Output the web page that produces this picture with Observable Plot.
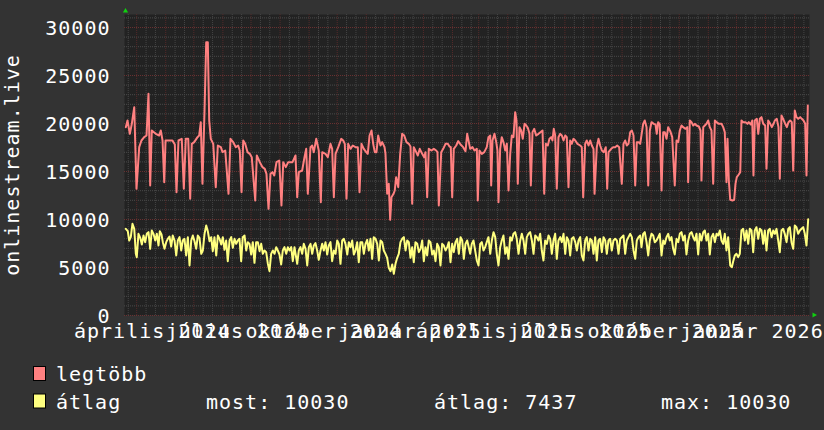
<!DOCTYPE html>
<html><head><meta charset="utf-8">
<script src="https://cdn.jsdelivr.net/npm/d3@7"></script>
<script src="https://cdn.jsdelivr.net/npm/@observablehq/plot@0.6"></script>
<style>
html,body{margin:0;padding:0;background:#333333;}
#wrap{width:824px;height:430px;position:relative;overflow:hidden;background:#333333;}
svg{display:block}
</style></head><body><div id="wrap"></div>
<script>
// ---- data (days after 2024-02-17 UTC) ----
const startISO = "2024-02-17";
const endISO = "2026-02-17";
const redDay = [1.4,3.2,5.7,7.8,10.4,12.8,15.7,18.1,21.0,23.5,25.6,27.4,29.1,33.4,37.0,38.7,40.6,42.4,43.8,51.2,53.7,55.5,57.6,61.1,63.3,65.4,68.0,70.1,71.8,74.4,77.9,79.7,81.4,83.2,85.4,87.2,88.9,90.4,92.1,94.7,97.4,99.6,102.8,104.6,107.5,111.0,113.1,116.0,118.8,121.3,123.0,124.9,126.7,128.8,131.3,133.7,135.8,139.5,141.2,144.4,147.3,149.7,151.5,153.7,155.8,157.9,159.8,162.2,165.1,167.5,169.4,172.1,174.7,179.3,182.5,184.3,186.0,189.6,192.1,193.9,195.6,198.5,200.3,202.0,204.6,207.3,209.5,211.0,214.5,217.0,219.8,221.6,223.4,225.2,228.1,231.3,233.4,235.1,236.9,238.7,241.2,243.6,246.5,249.0,250.8,252.9,255.4,257.9,259.6,261.5,263.6,265.4,267.1,268.9,270.7,273.2,275.0,277.5,278.5,280.3,282.0,283.5,284.9,287.1,288.4,289.9,292.1,294.2,296.3,298.5,300.9,303.4,305.2,307.0,308.7,311.3,313.0,315.1,317.7,319.8,321.2,323.0,324.7,327.6,330.1,332.6,334.0,335.4,338.0,340.1,342.6,345.0,346.8,348.2,349.7,351.4,354.0,356.1,358.6,361.4,363.9,365.7,368.9,371.4,373.5,376.0,377.0,378.8,381.3,383.9,386.6,388.4,390.3,391.3,392.7,394.8,396.7,398.0,399.1,400.9,402.6,404.4,406.3,408.0,409.8,411.6,413.3,415.1,416.9,418.3,419.7,421.5,423.3,425.0,426.9,428.7,430.4,432.2,433.6,435.4,437.2,439.3,441.8,443.9,446.1,447.9,449.6,451.7,453.5,455.4,456.7,458.1,459.6,461.3,463.1,465.0,466.7,468.5,470.3,472.0,473.8,475.6,477.3,479.1,481.0,483.4,486.3,488.0,489.5,491.6,493.3,495.2,497.0,498.7,500.5,501.6,504.0,505.8,507.6,509.4,511.5,513.6,515.1,516.5,519.4,521.5,523.6,525.8,527.9,530.7,532.5,534.3,536.0,537.8,539.7,541.4,543.2,545.0,546.7,548.5,550.3,553.5,555.2,557.1,558.9,560.6,562.4,564.8,566.7,568.0,569.5,571.2,573.1,574.9,576.6,578.4,580.2,582.4,584.5,585.5,587.2,589.1,590.9,592.6,594.4,596.2,598.7,600.5,601.5,603.3,605.1,606.9,608.6,610.4,612.9,614.7,615.7,617.6,619.3,621.1,622.9,624.6,626.4,628.2,630.0,631.8,634.2,637.1,638.9,640.6,642.4,643.5,644.9,646.4,648.8,650.6,652.0,653.4,655.5,657.1,658.4,660.2,662.7,664.8,666.2,668.4,669.9,671.2,672.6,674.8,676.3,678.0,679.8,681.6,683.7,685.1,686.9,689.1,690.8,692.6,694.0,696.1,697.9,699.3,701.1,702.9,705.1,706.8,708.6,710.4,712.1,713.6,715.3,717.1,718.9,721.1,722.8,724.6,726.4,727.8,729.2];
const redVal = [19618,20313,18924,19966,21700,13195,17535,18229,18576,18750,23090,13542,19271,18924,18750,19271,18229,13889,18229,18229,17800,12847,18229,18403,13195,18403,18403,12153,17882,18056,18576,18750,20139,13716,21355,28472,28472,20313,18403,17882,13368,17708,17535,17014,17188,12674,18403,18056,17535,17708,17188,12847,18229,17882,17014,16841,16493,11979,16667,15972,15451,15278,14757,11111,14757,14931,14584,15972,16146,11458,15972,15451,15972,15972,16667,12327,14931,15104,16493,17361,12674,17535,17708,17014,18403,17188,11806,17014,16841,16493,17882,17361,12327,16841,17535,18403,18229,17882,12153,17882,17361,17708,17535,17535,12847,17882,17361,17014,16841,18750,19271,17882,17014,17014,18750,17708,18056,17535,16841,12674,13716,9965,12327,12674,13021,14410,13368,16841,18924,18750,18056,17882,17604,11632,17535,17014,16667,17361,16841,16493,17014,12327,17361,17188,17361,17188,17014,11458,17014,17361,17882,17882,17604,17535,12327,17361,17708,18160,17813,17535,17118,18924,17361,17535,17188,17361,11979,17188,16841,17014,17535,18576,18750,13542,18229,18924,18056,17188,11806,17361,18576,18056,17188,17882,13021,16841,18750,18576,21181,20313,13716,19618,19271,18403,19966,19792,19549,18924,13542,19097,19444,18750,18924,19097,19271,12674,17882,17708,18403,18576,18229,19444,18750,13195,18576,18924,18750,18229,18750,18576,13368,18229,17882,18403,18229,17882,17708,17535,12327,17882,18229,17708,18229,17708,17361,12674,17535,18403,17708,17188,17014,17535,13195,17014,17361,17535,17535,17708,17535,13716,17882,18229,17708,17882,19097,19271,18750,13542,18056,18056,17882,19966,20313,19618,13542,19271,20139,19966,19896,18924,20139,19896,13021,19097,19097,18403,19618,19201,18576,16667,13542,18229,18056,19271,19792,19618,19444,19618,13889,20313,20139,19792,19966,19792,19688,19271,14063,19618,19792,19966,20313,19618,19271,13716,20313,20139,19966,19966,19618,19097,13889,18403,14063,12049,11979,12049,13716,14410,14688,14931,20313,20139,20139,19966,20139,19896,20313,14584,20313,20486,18924,20486,20660,19966,19792,15278,20313,19966,19618,19966,20313,20486,19618,14236,20833,20486,19966,19618,20139,20313,20139,15104,21355,20660,20486,20660,20486,20313,19966,14584,21875];
const yelDay = [1.4,3.5,5.0,6.7,8.5,10.4,12.1,13.1,14.9,16.8,18.5,20.3,22.1,23.8,25.6,27.4,29.1,30.9,32.8,34.5,36.3,37.7,39.5,40.9,42.7,44.5,46.2,48.0,49.8,51.5,53.4,55.2,56.9,58.7,60.5,62.2,64.0,65.8,67.6,69.4,71.2,72.9,74.7,76.5,78.2,80.0,81.9,83.6,85.4,87.2,88.9,90.7,92.5,94.2,96.0,97.9,99.6,101.4,103.2,104.9,106.7,108.5,110.2,112.1,113.9,115.6,117.4,119.2,120.9,122.7,124.5,126.2,128.1,129.9,131.6,133.4,135.2,136.9,138.7,140.5,142.3,144.1,145.9,147.6,149.4,151.2,152.9,154.7,156.5,158.3,160.1,161.9,163.6,165.4,167.2,168.9,170.7,172.6,174.3,176.1,177.9,179.6,181.4,184.3,186.0,187.8,189.6,191.3,193.2,195.0,196.7,198.5,200.3,202.0,203.8,205.6,207.3,209.2,211.0,212.7,214.5,216.3,218.0,219.8,221.6,223.4,225.2,227.0,228.7,230.5,232.3,234.0,235.8,237.7,239.4,241.2,243.0,244.7,246.5,248.3,250.0,251.8,253.7,255.4,257.2,259.0,260.7,262.5,264.3,266.0,267.9,269.7,271.4,273.2,275.0,276.7,278.5,280.3,282.0,283.9,285.7,287.4,289.2,291.0,292.7,294.5,296.3,298.1,299.9,301.7,303.4,305.2,307.0,308.7,310.5,312.4,314.1,315.9,317.7,319.4,321.2,323.0,324.7,326.5,328.4,330.1,331.9,333.7,335.4,337.2,339.0,340.7,342.6,344.4,346.1,347.9,349.7,351.4,353.2,355.0,356.8,358.6,360.4,362.1,363.9,365.7,368.9,370.6,372.4,374.2,376.0,377.8,379.6,381.3,383.1,384.9,386.6,388.4,390.3,392.0,393.8,395.6,397.3,399.1,400.9,402.6,404.4,406.3,408.0,409.8,411.6,413.3,415.1,416.9,418.6,420.5,422.3,424.0,425.8,427.6,429.3,431.1,432.9,434.7,436.5,438.3,440.0,441.8,443.6,445.3,447.1,448.9,450.7,452.5,454.3,456.0,457.8,459.6,461.3,463.1,465.0,466.7,468.5,470.3,472.0,473.8,475.6,477.3,479.1,481.0,482.7,484.5,486.3,488.0,489.8,491.6,493.3,495.2,497.0,498.7,500.5,502.3,504.0,505.8,507.6,509.4,511.2,513.0,514.7,516.5,518.3,520.0,521.8,523.6,525.4,527.2,529.0,530.7,532.5,534.3,536.0,537.8,539.7,541.4,543.2,545.0,546.7,548.5,550.3,551.7,553.5,555.2,557.1,558.9,560.6,562.4,564.2,565.9,567.7,569.5,571.2,573.1,574.9,576.6,578.4,580.2,581.9,583.7,585.5,587.2,589.1,590.9,592.6,594.4,596.2,597.9,599.7,601.5,603.3,605.1,606.9,608.6,610.4,612.2,613.9,615.7,617.6,619.3,621.1,622.9,624.6,626.4,628.2,630.0,631.8,633.6,635.3,637.1,638.9,640.6,642.4,644.2,645.3,646.4,648.1,649.6,651.3,653.1,654.9,656.6,658.4,660.2,662.0,663.8,665.6,667.3,669.1,670.9,672.6,674.4,676.3,678.0,679.8,681.6,683.3,685.1,686.9,688.6,690.5,692.3,694.0,695.8,697.6,699.3,701.1,702.9,704.6,706.5,708.3,710.0,711.8,713.6,715.3,717.1,718.9,720.7,722.5,724.3,726.0,727.8,729.6];
const yelVal = [9028,8785,7813,8160,9549,9028,6424,6076,8507,8090,7396,8333,7639,8507,8681,6945,8854,8507,7813,8507,7292,8785,8438,7639,6945,7639,7986,8229,7188,8333,7813,6250,7813,8160,6771,7813,7986,6250,8160,5208,7813,8333,7743,6945,8333,8090,6424,6771,8507,9375,8785,7743,8160,6701,8160,6250,8333,7986,7396,8160,6841,7813,5660,7813,8160,7049,7986,7465,7813,7986,5660,8160,8333,6771,7639,7465,6354,7639,5486,7639,7639,6701,7465,6424,6771,6597,5451,4618,6424,6771,6424,7118,6771,6354,5313,6771,7118,6424,7118,6771,7118,5660,7118,5382,6771,7118,6424,7465,6945,5208,7118,7465,6424,7292,7535,6771,5799,6771,7465,6771,7639,6354,7292,7639,5660,6771,6424,7813,7465,5382,7813,7986,7465,6354,7639,7118,7813,6354,6771,7639,5556,7639,7639,6424,7465,7882,6771,7986,5903,8160,7986,7465,5729,7813,7639,6771,6424,6007,4965,4618,5313,4340,5382,6007,6424,7639,7986,8160,6771,7813,7639,6007,7118,5556,7639,7465,6597,6945,7813,5660,7118,6250,7813,7639,6354,6771,5660,7465,7118,5208,7465,7292,6771,7118,7639,5556,7465,6597,7639,7986,6424,8160,7813,5903,7465,7813,6424,7465,7813,6771,5729,5208,7465,7639,6771,7118,7639,8160,6424,7813,8681,8160,6424,5208,7118,7813,8333,6424,7118,5903,8160,7813,8507,8681,7986,6424,7813,8507,7813,6424,8160,8507,8681,7813,6424,8333,8160,7813,8507,6771,5729,7813,7465,8333,7986,6424,7813,8507,5903,7813,8160,7639,8507,6424,8160,7813,6250,7986,8160,7639,6771,7813,8160,6250,5729,7813,8160,6771,7986,7813,6424,8160,5729,7813,7986,6597,8160,7813,6424,7813,7986,6771,7813,7986,7813,6424,7986,8160,8333,6424,7813,8160,8507,8160,6771,5903,7813,8160,8333,7118,8507,8681,7639,6250,7813,8507,8333,7639,7813,8160,8507,6250,7813,7465,8160,8507,7813,8160,6945,6354,7986,7639,8507,8681,7813,8333,6354,7813,8507,8681,8160,7813,8507,6354,8507,7813,8681,8854,7813,8507,6354,8160,8507,7639,8507,8333,8854,7813,7465,8507,6771,8160,6597,5208,5035,5660,6250,6424,6076,6424,8854,9028,7813,8854,7465,9028,8854,6597,8854,9201,7986,9028,8854,7465,8854,6771,8854,9028,8160,8854,8507,9028,7813,6597,8854,9028,8507,7639,9028,9201,7639,6945,9375,9201,8507,8854,9028,9201,8507,7292,10030];
const yTicks = [0, 5000, 10000, 15000, 20000, 25000, 30000];
const yTop = 31354;
const tickMonths = ["2024-04-01","2024-07-01","2024-10-01","2025-01-01","2025-04-01","2025-07-01","2025-10-01","2026-01-01"];
const tickLabels = ["április 2024","július 2024","október 2024","január 2025","április 2025","július 2025","október 2025","január 2026"];
const yTitle = ["onlinestream.live"];
const seriesNames = ["legtöbb","átlag"];
const seriesColors = ["#ff8080","#ffff80"];
const statLabels = ["most: 10030","átlag: 7437","max: 10030"];

// ---- build ----
const FONT = "'DejaVu Sans Mono', monospace";
const FS = 20;
const utc = s => new Date(s + "T00:00:00Z");
const start = utc(startISO), end = utc(endISO);
const atDay = d => new Date(+start + d * 864e5);
const red = redDay.map((d, i) => ({date: atDay(d), value: redVal[i]}));
const yel = yelDay.map((d, i) => ({date: atDay(d), value: yelVal[i]}));
const monthStarts = d3.utcMonth.range(start, end);
const minorDates = d3.utcDay.range(start, end).filter(d => d.getUTCDate() === 11 || d.getUTCDate() === 21);
const yMinor = d3.range(1000, yTop, 1000).filter(v => v % 5000 !== 0);
const tickDates = tickMonths.map(utc);
const labelOf = new Map(tickDates.map((d, i) => [+d, tickLabels[i]]));

const chart = Plot.plot({
  width: 824, height: 350,
  marginTop: 14, marginRight: 15, marginBottom: 35, marginLeft: 124,
  style: {background: "transparent", color: "#ffffff", fontFamily: FONT, fontSize: FS + "px", letterSpacing: "1px"},
  x: {type: "utc", domain: [start, end]},
  y: {domain: [0, yTop]},
  marks: [
    Plot.frame({fill: "#222222", stroke: null}),
    Plot.ruleY(yMinor, {stroke: "#4a4a4a", strokeDasharray: "1,1"}),
    Plot.ruleX(minorDates, {stroke: "#454545", strokeDasharray: "1,1"}),
    Plot.ruleY(yTicks, {stroke: "#6a3232", strokeDasharray: "1,1"}),
    Plot.ruleX(monthStarts, {stroke: "#552a2a", strokeDasharray: "1,1"}),
    Plot.line(red, {x: "date", y: "value", stroke: seriesColors[0], strokeWidth: 2}),
    Plot.line(yel, {x: "date", y: "value", stroke: seriesColors[1], strokeWidth: 2}),
    Plot.axisY(yTicks, {tickSize: 0, tickPadding: 14, dy: 1, fontSize: FS, label: null, tickFormat: d => String(d), fill: "#ffffff"}),
    Plot.axisX(tickDates, {tickSize: 0, tickPadding: 8, dx: -13.5, fontSize: FS, label: null, tickFormat: d => labelOf.get(+d), fill: "#ffffff"}),
    Plot.text(yTitle, {frameAnchor: "left", textAnchor: "middle", lineAnchor: "middle", dx: -112, rotate: -90, fontSize: FS, fill: "#ffffff"}),
    Plot.dot([0], {frameAnchor: "top-left", dx: 1, dy: -3.5, symbol: "triangle2", r: 2.5, fill: "#10d010", stroke: null}),
    Plot.dot([0], {frameAnchor: "bottom-right", dx: 4.5, dy: -0.5, symbol: "triangle2", r: 2.5, rotate: 90, fill: "#10d010", stroke: null})
  ]
});
const wrap = document.getElementById("wrap");
wrap.appendChild(chart);

// ---- legend (below the chart) ----
const leg = d3.create("svg").attr("width", 824).attr("height", 80)
  .style("display", "block").style("font-family", FONT).style("font-size", FS + "px").style("letter-spacing", "1px");
const rows = [{y: 16.5, base: 31}, {y: 44, base: 59}];
seriesNames.forEach((name, i) => {
  leg.append("rect").attr("x", 33.5).attr("y", rows[i].y).attr("width", 12).attr("height", 14)
    .attr("fill", seriesColors[i]).attr("stroke", "#000").attr("stroke-width", 1);
  leg.append("text").attr("x", 56).attr("y", rows[i].base).attr("fill", "#fff").text(name);
});
const statX = [206, 434, 661];
statLabels.forEach((s, i) => {
  leg.append("text").attr("x", statX[i]).attr("y", rows[1].base).attr("fill", "#fff").text(s);
});
wrap.appendChild(leg.node());
</script></body></html>
